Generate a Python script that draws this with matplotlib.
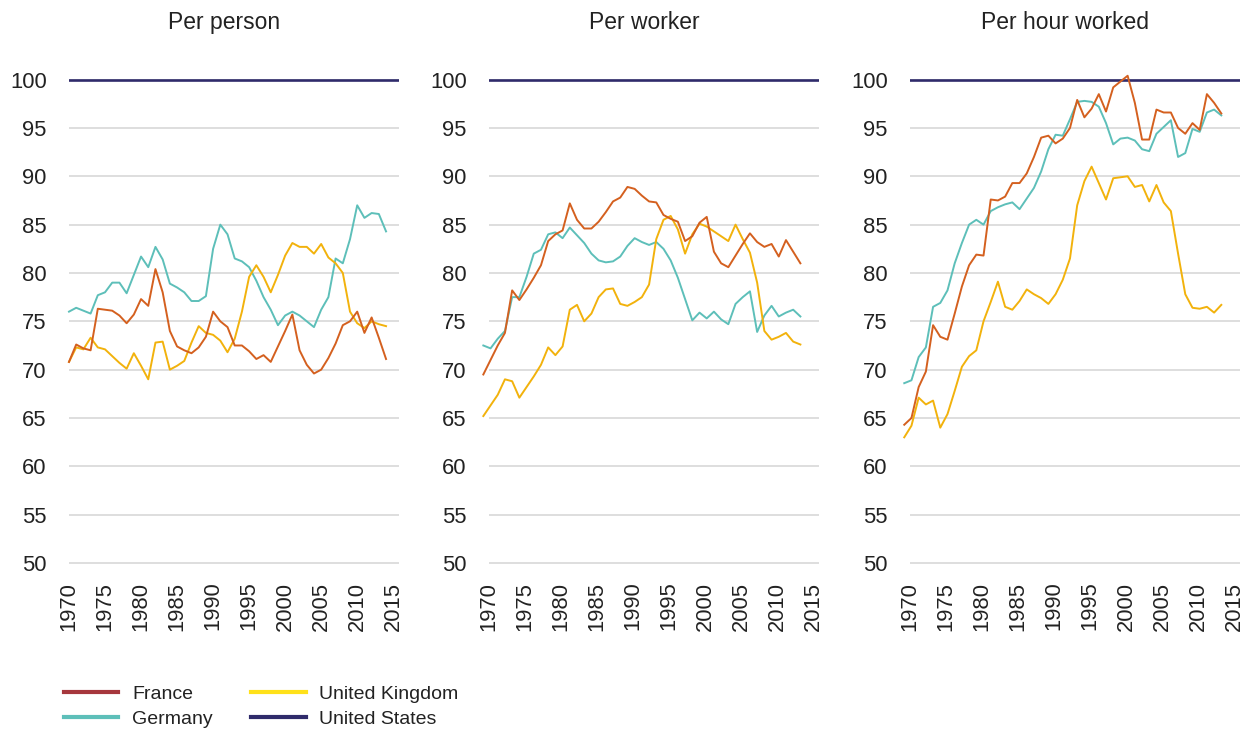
import numpy as np
import matplotlib
matplotlib.use("Agg")
import matplotlib.pyplot as plt
from matplotlib.lines import Line2D
from matplotlib.transforms import ScaledTranslation

plt.rcParams['font.family'] = ['Liberation Sans', 'DejaVu Sans']

# GDP relative to the United States (US = 100)
years = np.arange(1970, 2015)
us_level = 100

france_person = [70.8, 72.6, 72.2, 72.0, 76.3, 76.2, 76.1, 75.6, 74.8, 75.7,
                 77.3, 76.6, 80.4, 78.0, 74.0, 72.4, 72.0, 71.7, 72.3, 73.4,
                 76.0, 75.0, 74.4, 72.5, 72.5, 71.9, 71.1, 71.5, 70.8, 72.4,
                 74.0, 75.7, 72.0, 70.5, 69.6, 70.0, 71.2, 72.7, 74.6, 75.0,
                 76.0, 73.8, 75.4, 73.3, 71.1]
germany_person = [76.0, 76.4, 76.1, 75.8, 77.7, 78.0, 79.0, 79.0, 77.9, 79.8,
                  81.7, 80.6, 82.7, 81.4, 78.9, 78.5, 78.0, 77.1, 77.1, 77.6,
                  82.5, 85.0, 84.0, 81.5, 81.2, 80.6, 79.2, 77.5, 76.2, 74.6,
                  75.6, 76.0, 75.6, 75.0, 74.4, 76.2, 77.5, 81.5, 81.0, 83.5,
                  87.0, 85.7, 86.2, 86.1, 84.3]
uk_person = [70.8, 72.3, 72.1, 73.3, 72.3, 72.1, 71.4, 70.7, 70.1, 71.7,
             70.4, 69.0, 72.8, 72.9, 70.0, 70.4, 70.9, 72.8, 74.5, 73.8,
             73.6, 73.0, 71.8, 73.2, 76.0, 79.6, 80.8, 79.6, 78.0, 79.8,
             81.8, 83.1, 82.7, 82.7, 82.0, 83.0, 81.6, 81.0, 80.0, 76.0,
             74.8, 74.3, 75.0, 74.7, 74.5]

france_worker = [69.5, 71.0, 72.5, 73.8, 78.2, 77.2, 78.3, 79.5, 80.8, 83.3,
                 84.0, 84.4, 87.2, 85.5, 84.6, 84.6, 85.3, 86.3, 87.4, 87.8,
                 88.9, 88.7, 88.0, 87.4, 87.3, 86.0, 85.6, 85.3, 83.3, 83.8,
                 85.2, 85.8, 82.2, 81.0, 80.6, 81.8, 83.0, 84.1, 83.2, 82.7,
                 83.0, 81.7, 83.4, 82.2, 81.0]
germany_worker = [72.5, 72.2, 73.2, 74.0, 77.5, 77.5, 79.6, 82.0, 82.4, 84.0,
                  84.2, 83.6, 84.7, 83.9, 83.1, 82.0, 81.3, 81.1, 81.2, 81.7,
                  82.8, 83.6, 83.2, 82.9, 83.2, 82.5, 81.3, 79.5, 77.3, 75.1,
                  75.9, 75.3, 76.0, 75.2, 74.7, 76.8, 77.5, 78.1, 73.9, 75.6,
                  76.6, 75.5, 75.9, 76.2, 75.5]
uk_worker = [65.2, 66.3, 67.4, 69.0, 68.8, 67.1, 68.2, 69.3, 70.5, 72.3,
             71.5, 72.4, 76.2, 76.7, 75.0, 75.8, 77.5, 78.3, 78.4, 76.8,
             76.6, 77.0, 77.5, 78.8, 83.5, 85.5, 85.9, 84.5, 82.0, 84.0,
             85.1, 84.8, 84.3, 83.8, 83.3, 85.0, 83.5, 82.1, 79.0, 74.0,
             73.1, 73.4, 73.8, 72.9, 72.6]

france_hour = [64.3, 65.0, 68.2, 69.8, 74.6, 73.4, 73.1, 75.8, 78.6, 80.8,
               81.9, 81.8, 87.6, 87.5, 87.9, 89.3, 89.3, 90.3, 92.0, 94.0,
               94.2, 93.4, 93.9, 95.0, 97.9, 96.1, 97.0, 98.5, 96.7, 99.2,
               99.8, 100.4, 97.6, 93.8, 93.8, 96.9, 96.6, 96.6, 95.0, 94.4,
               95.5, 94.8, 98.5, 97.6, 96.5]
germany_hour = [68.6, 68.9, 71.3, 72.3, 76.5, 76.9, 78.2, 81.0, 83.1, 85.0,
                85.5, 85.0, 86.4, 86.8, 87.1, 87.3, 86.6, 87.7, 88.8, 90.5,
                92.8, 94.3, 94.2, 95.9, 97.7, 97.8, 97.7, 97.2, 95.5, 93.3,
                93.9, 94.0, 93.7, 92.8, 92.6, 94.4, 95.1, 95.8, 92.0, 92.4,
                94.9, 94.6, 96.6, 96.9, 96.3]
uk_hour = [63.0, 64.2, 67.1, 66.4, 66.8, 64.0, 65.4, 67.8, 70.3, 71.4,
           72.0, 75.0, 77.0, 79.1, 76.5, 76.2, 77.1, 78.3, 77.8, 77.4,
           76.8, 77.8, 79.3, 81.5, 87.0, 89.5, 91.0, 89.3, 87.6, 89.8,
           89.9, 90.0, 88.9, 89.1, 87.4, 89.1, 87.3, 86.4, 82.0, 77.8,
           76.4, 76.3, 76.5, 75.9, 76.7]

titles = ["Per person", "Per worker", "Per hour worked"]
panels = [
    (france_person, germany_person, uk_person),
    (france_worker, germany_worker, uk_worker),
    (france_hour, germany_hour, uk_hour),
]
yticks = np.arange(50, 101, 5)
xticks = np.arange(1970, 2016, 5)

c_fr = '#d4601f'
c_de = '#5dbfb9'
c_uk = '#f2b20c'
c_us = '#2f2b6b'
text_col = '#222222'

fig = plt.figure(figsize=(12.52, 7.31), dpi=100)
lefts = [0.0551, 0.3906, 0.7268]

for k, (fr, de, uk) in enumerate(panels):
    ax = fig.add_axes([lefts[k], 0.2166, 0.2636, 0.6877])
    # the source shifts the data of the 2nd and 3rd panels a few px left
    tr = ax.transData
    if k > 0:
        tr = tr + ScaledTranslation(-5.7 / 100, 0, fig.dpi_scale_trans)
    ax.axhline(us_level, color=c_us, lw=1.9, zorder=3)
    ax.plot(years, de, color=c_de, lw=1.4, transform=tr, clip_on=False, zorder=4)
    ax.plot(years, uk, color=c_uk, lw=1.4, transform=tr, clip_on=False, zorder=4)
    ax.plot(years, fr, color=c_fr, lw=1.4, transform=tr, clip_on=False, zorder=5)

    ax.set_xlim(1970, 2015.8)
    ax.set_ylim(49, 101)
    ax.set_yticks(yticks)
    ax.set_xticks(xticks)
    ax.grid(axis='y', color='#d4d4d4', lw=1.1)
    ax.set_axisbelow(True)
    for s in ax.spines.values():
        s.set_visible(False)
    ax.tick_params(axis='y', length=0, pad=16, labelsize=15.8, labelcolor=text_col)
    ax.tick_params(axis='x', length=0, pad=6.5, labelsize=15.8, labelcolor=text_col,
                   labelrotation=90)
    # titles sit a little left of the plot centre in the source
    ax.text(0.47, 1.081, titles[k], transform=ax.transAxes, ha='center',
            va='baseline', fontsize=16.5, color=text_col)

handles = [
    Line2D([], [], color='#a6373d', lw=3),
    Line2D([], [], color=c_de, lw=3),
    Line2D([], [], color='#ffe11a', lw=3),
    Line2D([], [], color=c_us, lw=3),
]
labels = ["France", "Germany", "United Kingdom", "United States"]
fig.legend(handles, labels, loc='upper left', bbox_to_anchor=(0.051, 0.063),
           ncol=2, frameon=False, fontsize=14, handlelength=2.8,
           handletextpad=0.7, columnspacing=2.0, labelspacing=0.38,
           borderpad=0, borderaxespad=0, labelcolor=text_col)

fig.savefig("out.png", dpi=100)
